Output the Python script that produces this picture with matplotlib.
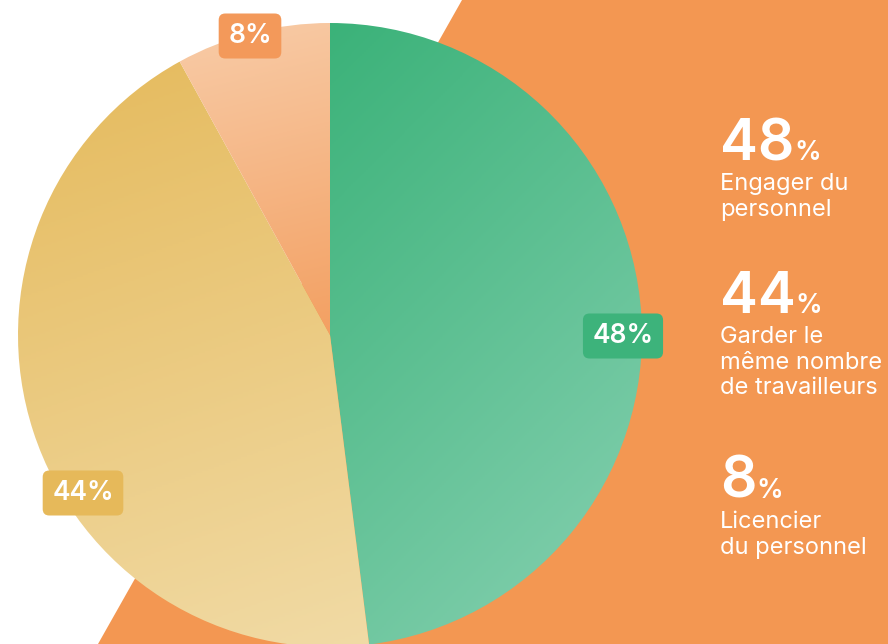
import numpy as np
import matplotlib.pyplot as plt
from matplotlib.colors import LinearSegmentedColormap
from matplotlib.patches import Polygon

# data
shares = [48, 44, 8]
labels = ["Engager du\npersonnel",
          "Garder le\nmême nombre\nde travailleurs",
          "Licencier\ndu personnel"]

# styles
grad_start = ["#3bb279", "#e5ba5c", "#f8cca8"]
grad_end = ["#88d1b2", "#f1dba6", "#f3a062"]
grad_dir = [(1.0, -1.0), (0.35, -1.0), (0.25, -1.0)]
box_colors = ["#3db37b", "#e6b95a", "#f3995a"]
box_pos = [(623, 336), (83, 493), (250, 36)]       # pixel positions
side_pos = [(720, 160), (720, 313), (720, 498)]    # baseline of big numbers
ORANGE = "#f39752"
FONT = "Inter"

W, H = 888, 644
fig = plt.figure(figsize=(W / 100, H / 100), dpi=100)
ax = fig.add_axes([0, 0, 1, 1])

# orange band on the right
ax.add_patch(Polygon([(462, H), (W, H), (W, 0), (98, 0)], closed=True,
                     facecolor=ORANGE, edgecolor="none", zorder=0))

cx, cy, r = 330, H - 335, 312
wedges, _ = ax.pie(shares, startangle=90, counterclock=False,
                   center=(cx, cy), radius=r, frame=True,
                   wedgeprops=dict(linewidth=0))

# gradient fill clipped to each wedge
for w, c0, c1, d in zip(wedges, grad_start, grad_end, grad_dir):
    v = w.get_path().vertices
    x0, x1 = v[:, 0].min(), v[:, 0].max()
    y0, y1 = v[:, 1].min(), v[:, 1].max()
    xs = np.linspace(x0, x1, 300)
    ys = np.linspace(y0, y1, 300)
    X, Y = np.meshgrid(xs, ys)
    d = np.array(d) / np.hypot(*d)
    t = X * d[0] + Y * d[1]
    t = (t - t.min()) / (t.max() - t.min())
    cmap = LinearSegmentedColormap.from_list("g", [c0, c1])
    im = ax.imshow(t, cmap=cmap, extent=(x0, x1, y0, y1), origin="lower",
                   interpolation="bilinear", zorder=1, aspect="auto")
    im.set_clip_path(w)
    w.set_facecolor("none")

# value boxes on the pie
for s, (px, py), bc in zip(shares, box_pos, box_colors):
    ax.text(px, H - py, f"{s}%", ha="center", va="center", fontsize=19,
            color="white", family=FONT, fontweight="semibold", zorder=3,
            bbox=dict(boxstyle="round,pad=0.36,rounding_size=0.25",
                      facecolor=bc, edgecolor="none"))

ax.set_xlim(0, W)
ax.set_ylim(0, H)
ax.set_aspect("auto")
ax.axis("off")

# side legend
renderer = fig.canvas.get_renderer()
for s, lab, (px, py) in zip(shares, labels, side_pos):
    big = ax.text(px, H - py, f"{s}", ha="left", va="baseline", fontsize=41,
                  color="white", family=FONT, fontweight="semibold", zorder=3)
    bb = big.get_window_extent(renderer)
    ax.text(bb.x1, H - py, "%", ha="left", va="baseline", fontsize=19,
            color="white", family=FONT, fontweight="semibold", zorder=3)
    ax.text(px, H - py - 13, lab, ha="left", va="top", fontsize=17,
            color="white", family=FONT, linespacing=1.22, zorder=3,
            multialignment="left")

fig.savefig("out.png", dpi=100, facecolor="white")
